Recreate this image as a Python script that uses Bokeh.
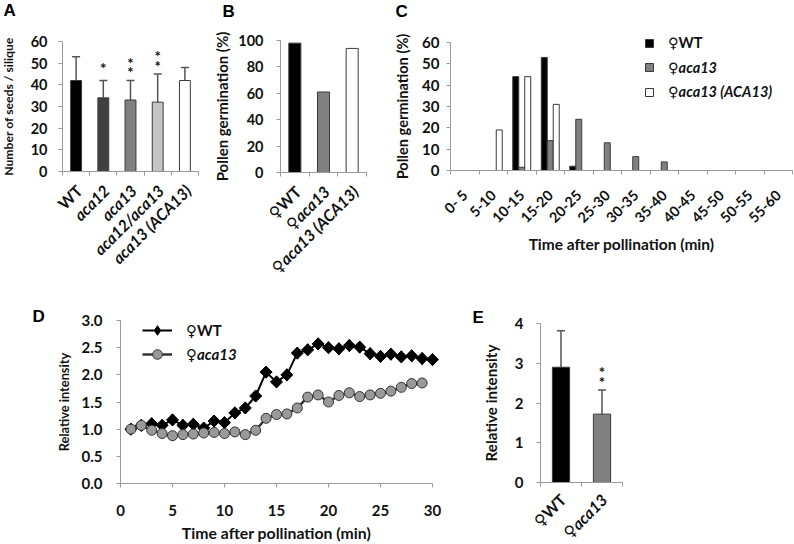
import numpy as np
from bokeh.plotting import figure
from bokeh.models import (Range1d, FixedTicker, SingleIntervalTicker, ColumnDataSource, Whisker,
                          TeeHead, LabelSet, Label, Legend, LegendItem, NumeralTickFormatter)
from bokeh.layouts import row, column
from bokeh.embed import file_html
from bokeh.resources import INLINE
from bokeh.core.properties import value

# ---------------- data ----------------
# Panel A
a_genotypes = ["WT", "aca12", "aca13", "aca12/aca13", "aca13 (ACA13)"]
a_seeds = [42, 34, 33, 32, 42]
a_sd = [11, 8, 9, 13, 6]
a_sig = ["", "*", "**", "**", ""]
a_colors = ["#000000", "#404040", "#808080", "#c4c4c4", "#ffffff"]

# Panel B
b_genotypes = ["♀WT", "♀aca13", "♀aca13 (ACA13)"]
b_germination = [98, 61, 94]
b_colors = ["#000000", "#808080", "#ffffff"]

# Panel C
c_bins = ["0- 5", "5-10", "10-15", "15-20", "20-25", "25-30", "30-35",
          "35-40", "40-45", "45-50", "50-55", "55-60"]
c_series = ["♀WT", "♀aca13", "♀aca13 (ACA13)"]
c_wt = [0, 0, 44, 53, 2, 0, 0, 0, 0, 0, 0, 0]
c_aca13 = [0, 0, 1.5, 14, 24, 13, 6.5, 4, 0, 0, 0, 0]
c_comp = [0, 19, 44, 31, 0, 0, 0, 0, 0, 0, 0, 0]
c_colors = ["#000000", "#808080", "#ffffff"]

# Panel D
d_time_wt = list(range(1, 31))
d_wt = [1.00, 1.07, 1.10, 1.07, 1.17, 1.07, 1.09, 1.02, 1.15, 1.12,
        1.30, 1.39, 1.61, 2.05, 1.87, 2.00, 2.40, 2.46, 2.57, 2.50,
        2.48, 2.54, 2.51, 2.39, 2.34, 2.38, 2.33, 2.35, 2.30, 2.28]
d_time_aca = list(range(1, 30))
d_aca13 = [1.00, 1.07, 0.98, 0.92, 0.88, 0.90, 0.91, 0.93, 0.94, 0.92,
           0.95, 0.90, 0.98, 1.20, 1.27, 1.28, 1.39, 1.59, 1.63, 1.50,
           1.62, 1.67, 1.60, 1.63, 1.66, 1.70, 1.77, 1.84, 1.85]
d_series = ["♀WT", "♀aca13"]

# Panel E
e_genotypes = ["♀WT", "♀aca13"]
e_intensity = [2.90, 1.72]
e_sd = [0.92, 0.61]
e_sig = ["", "**"]
e_colors = ["#000000", "#808080"]

# ---------------- style ----------------
FONT = "Lato, DejaVu Sans"
TXT = "#111111"
AXC = "#9a9a9a"
EDGE = "#3a3a3a"
ERR = "#555555"


def lin(d0, d1, p0, p1, size):
    """Range putting data d0 at pixel p0 and d1 at pixel p1 of a frame `size` px long."""
    s = (d1 - d0) / (p1 - p0)
    start = d0 - p0 * s
    return Range1d(start, start + size * s)


def lin_y(d0, d1, py0, py1, size):
    return lin(d0, d1, size - py0, size - py1, size)


def make_fig(width, height, xr, yr, x0, y_top, x_bounds, tick_size, title_size):
    p = figure(width=width, height=height, x_range=xr, y_range=yr, title=None,
               output_backend="svg", toolbar_location=None,
               min_border_left=0, min_border_right=0, min_border_top=0, min_border_bottom=0)
    p.outline_line_color = None
    p.grid.visible = False
    for ax in p.axis:
        ax.axis_line_color = AXC
        ax.major_tick_line_color = AXC
        ax.minor_tick_line_color = AXC
        ax.major_tick_in = 0
        ax.major_tick_out = 4
        ax.minor_tick_in = 0
        ax.minor_tick_out = 0
        ax.major_label_text_font = FONT
        ax.major_label_text_font_size = tick_size
        ax.major_label_text_font_style = "bold"
        ax.major_label_text_color = TXT
        ax.axis_label_text_font = FONT
        ax.axis_label_text_font_size = title_size
        ax.axis_label_text_font_style = "bold"
        ax.axis_label_text_color = TXT
    p.xaxis.fixed_location = 0
    p.yaxis.fixed_location = x0
    p.xaxis.bounds = x_bounds
    p.yaxis.bounds = (0, y_top)
    return p


def category_axis(p, n):
    bounds = list(np.arange(n + 1) + 0.5)
    p.xaxis.ticker = FixedTicker(ticks=[], minor_ticks=bounds)
    p.xaxis.minor_tick_out = 4


def category_labels(p, xs, labels, size, xoff=2, yoff=-15):
    groups = {"bold": [], "bold italic": []}
    for x, lab in zip(xs, labels):
        groups["bold italic" if "aca" in lab else "bold"].append((x, lab))
    for style, items in groups.items():
        if not items:
            continue
        src = ColumnDataSource(dict(x=[i[0] for i in items], t=[i[1] for i in items]))
        p.add_layout(LabelSet(x="x", y=0, text="t", source=src,
                              angle=45, angle_units="deg", text_align="right",
                              text_baseline="middle", x_offset=xoff, y_offset=yoff,
                              text_font=value(FONT), text_font_size=size,
                              text_font_style=style, text_color=TXT))


def error_bars(p, xs, vals, sds):
    src = ColumnDataSource(dict(x=xs, lo=vals, hi=[v + e for v, e in zip(vals, sds)]))
    p.add_layout(Whisker(source=src, base="x", lower="lo", upper="hi",
                         line_color=ERR, line_width=1.5,
                         upper_head=TeeHead(size=8, line_color=ERR, line_width=1.5),
                         lower_head=None))


def stars(p, xs, vals, sds, sig, gap=17, pitch=9.5, lift=4):
    sx, sy, dy = [], [], []
    for x, v, e, s in zip(xs, vals, sds, sig):
        n = len(s)
        for j in range(n):
            sx.append(x)
            sy.append(v + e)
            dy.append(gap - (n - 1) * pitch / 2 + j * pitch - lift)
    src = ColumnDataSource(dict(x=sx, y=sy, dy=dy, t=["*"] * len(sx)))
    p.add_layout(LabelSet(x="x", y="y", y_offset="dy", text="t", source=src,
                          text_align="center", text_baseline="middle",
                          text_font=value(FONT), text_font_size="15px",
                          text_font_style="bold", text_color=TXT))


def panel_letter(p, letter, x, y, dx, dy):
    p.add_layout(Label(x=x, y=y, x_offset=dx, y_offset=dy, text=letter,
                       text_font="Liberation Sans", text_font_size="17px",
                       text_font_style="bold", text_color="#000000",
                       text_align="left", text_baseline="alphabetic"))


def single_legend(p, label, renderers, loc, style, size, gw, gh, standoff):
    leg = Legend(items=[LegendItem(label=label, renderers=renderers)], location=loc,
                 border_line_color=None, background_fill_alpha=0, padding=0, margin=0,
                 spacing=0, glyph_width=gw, glyph_height=gh, label_height=gh,
                 label_standoff=standoff, label_text_font=FONT, label_text_font_size=size,
                 label_text_font_style=style, label_text_color=TXT)
    p.add_layout(leg)


TOP_H, BOT_H = 290, 254

# ---------------- Panel A ----------------
nA = len(a_genotypes)
xa = list(np.arange(1, nA + 1))
pA = make_fig(200, TOP_H, lin(0.5, nA + 0.5, 62, 198, 200), lin_y(0, 60, 171, 41, TOP_H),
              0.5, 60, (0.5, nA + 0.5), "14.5px", "12.2px")
pA.vbar(x=xa, top=a_seeds, width=0.4, fill_color=a_colors, line_color=EDGE, line_width=1)
error_bars(pA, xa, a_seeds, a_sd)
stars(pA, xa, a_seeds, a_sd, a_sig)
category_axis(pA, nA)
pA.yaxis.ticker = SingleIntervalTicker(interval=10)
pA.yaxis.major_label_standoff = 11
pA.yaxis.axis_label = "Number of seeds / silique"
pA.yaxis.axis_label_standoff = 12
category_labels(pA, xa, a_genotypes, "16px", 3, -16)
panel_letter(pA, "A", 0.5, 60, -59, 31)

# ---------------- Panel B ----------------
nB = len(b_genotypes)
xb = list(np.arange(1, nB + 1))
pB = make_fig(175, TOP_H, lin(0.5, nB + 0.5, 80, 166, 175), lin_y(0, 100, 172, 40, TOP_H),
              0.5, 100, (0.5, nB + 0.5), "14.5px", "15px")
pB.vbar(x=xb, top=b_germination, width=0.42, fill_color=b_colors, line_color=EDGE, line_width=1)
category_axis(pB, nB)
pB.yaxis.ticker = SingleIntervalTicker(interval=20)
pB.yaxis.major_label_standoff = 13
pB.yaxis.axis_label = "Pollen germination (%)"
pB.yaxis.axis_label_standoff = 4
category_labels(pB, xb, b_genotypes, "16px", 3, -16)
panel_letter(pB, "B", 0.5, 100, -58, 29)

# ---------------- Panel C ----------------
nC = len(c_bins)
xc = np.arange(1, nC + 1)
pC = make_fig(419, TOP_H, lin(0.5, nC + 0.5, 75, 417, 419), lin_y(0, 60, 170, 42, TOP_H),
              0.5, 60, (0.5, nC + 0.5), "15px", "15.5px")
c_renderers = []
for k, (vals, col) in enumerate(zip([c_wt, c_aca13, c_comp], c_colors)):
    vals = np.array(vals, dtype=float)
    mask = vals > 0
    src = ColumnDataSource(dict(x=xc[mask] + (k - 1) * 0.21, top=vals[mask]))
    r = pC.vbar(x="x", top="top", width=0.21, source=src, fill_color=col,
                line_color=EDGE, line_width=1)
    c_renderers.append(r)
pC.xaxis.ticker = FixedTicker(ticks=list(xc), minor_ticks=list(np.arange(nC + 1) + 0.5))
pC.xaxis.major_tick_out = 0
pC.xaxis.minor_tick_out = 4
pC.xaxis.major_label_overrides = {int(i): lab for i, lab in zip(xc, c_bins)}
pC.xaxis.major_label_orientation = np.pi / 4
pC.xaxis.major_label_text_font_size = "14.4px"
pC.xaxis.major_label_standoff = 18
pC.xaxis.axis_label = "Time after pollination (min)"
pC.xaxis.axis_label_standoff = 0
pC.yaxis.ticker = SingleIntervalTicker(interval=10)
pC.yaxis.major_label_standoff = 7
pC.yaxis.axis_label = "Pollen germination (%)"
pC.yaxis.axis_label_text_font_size = "14.6px"
pC.yaxis.axis_label_standoff = 8
c_styles = ["bold", "bold italic", "bold italic"]
c_leg_y = [239, 214.5, 190]
for lab, r, st, vy in zip(c_series, c_renderers, c_styles, c_leg_y):
    single_legend(pC, lab, [r], (269, vy), st, "14.5px", 10, 10, 14)
panel_letter(pC, "C", 0.5, 60, -55, 31)

# ---------------- Panel D ----------------
pD = make_fig(465, BOT_H, lin(0, 30, 120, 432, 465), lin_y(0, 3.0, 193, 30, BOT_H),
              0, 3.0, (0, 30), "15px", "15.8px")
l_wt = pD.line(d_time_wt, d_wt, line_color="#000000", line_width=2)
s_wt_leg = pD.scatter(d_time_wt, d_wt, marker="diamond", size=12,
                      fill_color="#000000", line_color="#000000")
s_wt = pD.scatter(d_time_wt, d_wt, marker="square", angle=np.pi / 4, size=8.5,
                  fill_color="#000000", line_color="#000000")
l_aca = pD.line(d_time_aca, d_aca13, line_color="#333333", line_width=2.5)
s_aca = pD.scatter(d_time_aca, d_aca13, marker="circle", size=10,
                   fill_color="#999999", line_color="#333333", line_width=1)
pD.xaxis.ticker = SingleIntervalTicker(interval=5)
pD.xaxis.major_label_standoff = 17
pD.xaxis.axis_label = "Time after pollination (min)"
pD.xaxis.axis_label_standoff = 4
pD.yaxis.ticker = SingleIntervalTicker(interval=0.5)
pD.yaxis.formatter = NumeralTickFormatter(format="0.0")
pD.yaxis.major_label_standoff = 14
pD.yaxis.axis_label = "Relative intensity"
pD.yaxis.axis_label_text_font_size = "12.8px"
pD.yaxis.axis_label_standoff = 7
single_legend(pD, d_series[0], [l_wt, s_wt_leg], (142, 202), "bold", "15px", 30, 24, 14)
single_legend(pD, d_series[1], [l_aca, s_aca], (142, 178), "bold italic", "15px", 30, 24, 14)
panel_letter(pD, "D", 0, 3.0, -88, 4)

# ---------------- Panel E ----------------
nE = len(e_genotypes)
xe = list(np.arange(1, nE + 1))
pE = make_fig(329, BOT_H, lin(0.5, nE + 0.5, 75, 157, 329), lin_y(0, 4, 192, 33, BOT_H),
              0.5, 4, (0.5, nE + 0.5), "15px", "15.2px")
pE.vbar(x=xe, top=e_intensity, width=0.42, fill_color=e_colors, line_color=EDGE, line_width=1)
error_bars(pE, xe, e_intensity, e_sd)
stars(pE, xe, e_intensity, e_sd, e_sig)
category_axis(pE, nE)
pE.yaxis.ticker = SingleIntervalTicker(interval=1)
pE.yaxis.major_label_standoff = 13
pE.yaxis.axis_label = "Relative intensity"
pE.yaxis.axis_label_standoff = 12
category_labels(pE, xe, e_genotypes, "16px", 2, -14)
panel_letter(pE, "E", 0.5, 4, -68, 6)

layout = column(row(pA, pB, pC), row(pD, pE))
open("out.html", "w").write(file_html(layout, INLINE))
